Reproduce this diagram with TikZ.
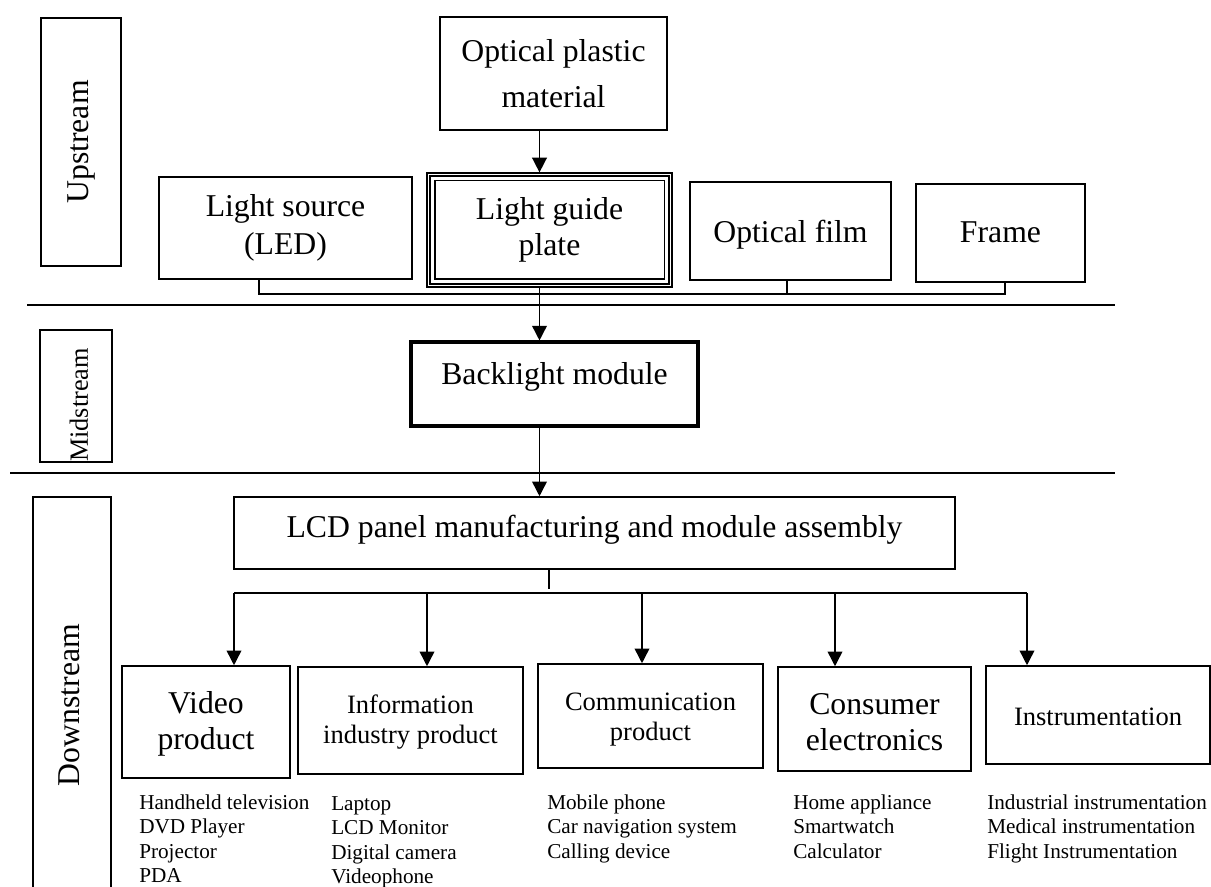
\documentclass[tikz,border=0pt]{standalone}
\usepackage{fontspec}
\setmainfont{Liberation Serif}
\usetikzlibrary{arrows.meta,calc}
\begin{document}
\begin{tikzpicture}[x=0.75pt,y=-0.75pt,
  wh/.style 2 args={minimum width=#1*0.75pt,minimum height=#2*0.75pt},
  box/.style={draw,line width=1.15pt,inner sep=0pt,align=center,
    font=\fontsize{23.8}{28}\selectfont},
  smallbox/.style={box,font=\fontsize{19.9}{22.5}\selectfont},
  stage/.style={draw,line width=1.15pt,inner sep=0pt},
  stagetext/.style={rotate=90,inner sep=0pt,font=\fontsize{23.8}{28}\selectfont},
  lst/.style={anchor=north west,inner sep=0pt,align=left,
    font=\fontsize{15.9}{18.4}\selectfont},
  conn/.style={line width=1.15pt},
  arr/.style={conn,-{Triangle[width=11pt,length=11pt]}},
  sep/.style={line width=1.3pt}]

\useasboundingbox (0,0) rectangle (1211,887);
\clip (0,0) rectangle (1211,887);

% stage labels
\node[stage,wh={80}{248}] (upb) at (81,142) {};
\node[stagetext] (upt) at (81,142) {Upstream};
\node[stage,wh={72}{132}] (midb) at (76,396) {};
\node[stagetext,font=\fontsize{19.7}{24}\selectfont] (midt) at (79,405) {Midstream};
\node[stage,wh={78}{420}] (downb) at (72,707) {};
\node[stagetext] (downt) at (69,705) {Downstream};

% separators between stages
\draw[sep] (27,305) -- (1115,305);
\draw[sep] (10,473) -- (1115,473);

% upstream
\node[box,wh={227}{113},font=\fontsize{23.8}{35}\selectfont] (opm) at (553.5,73.5) {Optical plastic\\material};
\node[box,wh={253}{102},font=\fontsize{23.8}{29}\selectfont] (ls) at (285.5,228) {Light source\\(LED)};
\node[box,line width=0.9pt,wh={245}{114},font=\fontsize{23.8}{27}\selectfont] (lgp) at (549.5,230) {Light guide\\plate};
\draw[line width=1.9pt] ($(lgp.north west)+(3.5,3.5)$) rectangle ($(lgp.south east)+(-3.5,-3.5)$);
\draw[line width=0.9pt] ($(lgp.north west)+(8.5,8.5)$) rectangle ($(lgp.south east)+(-8.5,-8.5)$);
\node[box,wh={201}{98},text height=17pt,text depth=0pt] (of) at (790.5,231) {Optical film};
\node[box,wh={169}{98},text height=17pt,text depth=2pt] (fr) at (1000.5,233) {Frame};

% midstream
\node[box,line width=2.3pt,wh={287}{84},text height=16pt,text depth=14.5pt] (bl) at (554.5,384) {Backlight module};

% downstream
\node[box,wh={721}{72},text height=16pt,text depth=8.5pt] (lcd) at (594.5,533) {LCD panel manufacturing and module assembly};
\node[box,wh={168}{112},font=\fontsize{23.8}{27}\selectfont] (vp) at (206,722) {\rule{0pt}{20pt}Video\\product};
\node[smallbox,wh={225}{107}] (ip) at (410.5,720.5) {\rule{0pt}{17pt}Information\\industry product};
\node[smallbox,wh={225}{104}] (cp) at (650.5,716) {\rule{0pt}{18pt}Communication\\product};
\node[box,wh={193}{104},font=\fontsize{23.8}{27}\selectfont] (ce) at (874.5,719) {\rule{0pt}{20pt}Consumer\\electronics};
\node[smallbox,wh={224}{98},text height=15pt,text depth=0pt] (ins) at (1098,715) {Instrumentation};

% product lists
\node[lst] (l1) at (139,793) {\rule{0pt}{12pt}Handheld television\\DVD Player\\Projector\\PDA};
\node[lst] (l2) at (331,794) {\rule{0pt}{12pt}Laptop\\LCD Monitor\\Digital camera\\Videophone};
\node[lst] (l3) at (547,793) {\rule{0pt}{12pt}Mobile phone\\Car navigation system\\Calling device};
\node[lst] (l4) at (793,793) {\rule{0pt}{12pt}Home appliance\\Smartwatch\\Calculator};
\node[lst] (l5) at (987,793) {\rule{0pt}{12pt}Industrial instrumentation\\Medical instrumentation\\Flight Instrumentation};

% main flow
\coordinate (spine) at (539.5,0);
\draw[arr] (opm.south -| spine) -- (lgp.north -| spine);
\draw[arr] (lgp.south -| spine) -- (bl.north -| spine);
\draw[arr] (bl.south -| spine) -- (lcd.north -| spine);

% upstream components joining the bus
\coordinate (t1) at (259,294);
\coordinate (t2) at (787,294);
\coordinate (t3) at (1005,294);
\draw[conn] (ls.south -| t1) -- (t1) -- (t3) -- (fr.south -| t3);
\draw[conn] (of.south -| t2) -- (t2);

% distribution to applications
\coordinate (d0) at (549,593);
\coordinate (d1) at (234,593);
\coordinate (d2) at (427,593);
\coordinate (d3) at (642,593);
\coordinate (d4) at (835,593);
\coordinate (d5) at (1027,593);
\draw[conn] (lcd.south -| d0) -- ($(d0)+(0,-4)$);
\draw[conn] (d1) -- (d5);
\draw[arr] (d1) -- (vp.north -| d1);
\draw[arr] (d2) -- (ip.north -| d2);
\draw[arr] (d3) -- (cp.north -| d3);
\draw[arr] (d4) -- (ce.north -| d4);
\draw[arr] (d5) -- (ins.north -| d5);
\end{tikzpicture}
\end{document}
